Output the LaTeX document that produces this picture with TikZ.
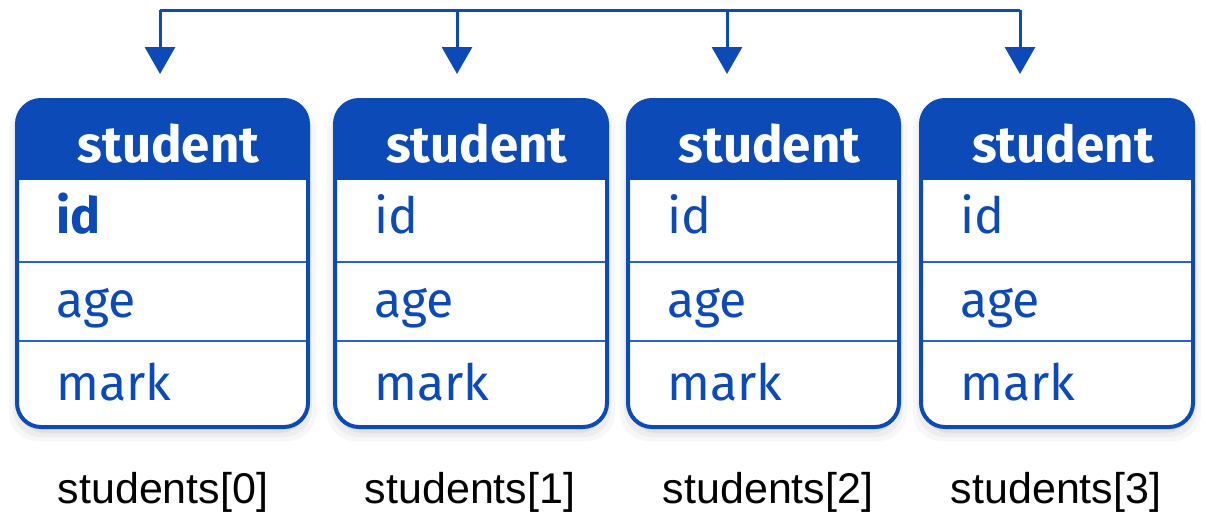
\documentclass[tikz,border=0pt]{standalone}
\usepackage{fontspec}
\setmainfont{Fira Sans}
\newfontfamily\labelfont{Liberation Sans}
\usetikzlibrary{arrows.meta}
\definecolor{sblue}{RGB}{12,74,184}
\definecolor{rowline}{RGB}{40,100,200}
\tikzset{
  conn/.style={draw=sblue, line width=3pt},
  tip/.style={conn, -{Triangle[width=30pt,length=27pt]}},
  headtext/.style={text=white, font=\fontsize{51}{56}\selectfont\bfseries},
  fieldtext/.style={text=sblue, anchor=base west, font=\fontsize{50}{56}\selectfont},
  idxlabel/.style={text=black, font=\labelfont\fontsize{43}{48}\selectfont},
  boxframe/.style={draw=sblue, line width=4pt, rounded corners=24pt},
}
\begin{document}
\begin{tikzpicture}[x=1pt,y=-1pt]
\useasboundingbox (0,0) rectangle (1206,515);
% top bus
\coordinate (t0) at (160,10);
\coordinate (t1) at (457,10);
\coordinate (t2) at (727,10);
\coordinate (t3) at (1020,10);
\coordinate (a0) at (160,74);
\coordinate (a1) at (457,74);
\coordinate (a2) at (727,74);
\coordinate (a3) at (1020,74);
\draw[conn] (t0) -- (t3);
\foreach \i in {0,1,2,3} { \draw[tip] (t\i) -- (a\i); }
% boxes
\foreach \i/\l/\r/\lx in {0/17/308/163, 1/335/607/470, 2/628/899/768, 3/921/1193/1056} {
  % shadow
  \foreach \s/\o in {14/0.03,10/0.04,6/0.05} {
    \fill[black, opacity=\o, rounded corners=28pt] (\l-\s+6,100+2) rectangle (\r+\s-6,427+\s);
  }
  \fill[white, rounded corners=24pt] (\l,100) rectangle (\r,427);
  \fill[sblue, rounded corners=24pt] (\l,100) rectangle (\r,210);
  \fill[white] (\l+2,180) rectangle (\r-2,212);
  \draw[rowline, line width=1.8pt] (\l,262) -- (\r,262);
  \draw[rowline, line width=1.8pt] (\l,341) -- (\r,341);
  \node[boxframe, minimum width=\r-\l, minimum height=327, anchor=north west, inner sep=0, outer sep=0] (b\i) at (\l,100) {};
  \node[headtext, anchor=base] (h\i) at ({(\l+\r)/2+6},162) {student};
  \ifnum\i=0
    \node[fieldtext, font=\fontsize{50}{56}\selectfont\bfseries] (id\i) at (\l+36,233) {id};
  \else
    \node[fieldtext] (id\i) at (\l+36,233) {id};
  \fi
  \node[fieldtext] (age\i) at (\l+36,317) {age};
  \node[fieldtext] (mark\i) at (\l+36,400) {mark};
  \node[idxlabel] (lab\i) at (\lx,492) {students[\i]};
}
\end{tikzpicture}
\end{document}
